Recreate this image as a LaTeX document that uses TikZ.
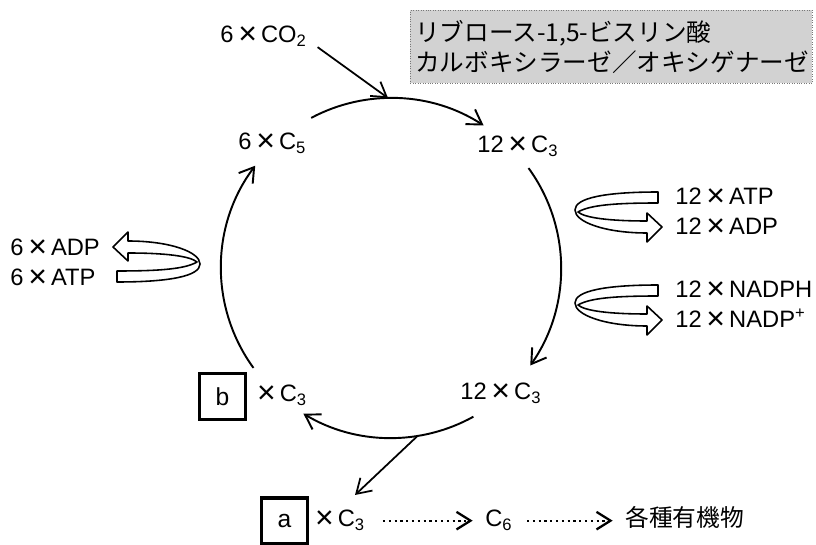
\documentclass[tikz,border=0pt]{standalone}
\usepackage{graphicx}
\usepackage{fontspec}
\setmainfont{Liberation Sans}
\newfontfamily\jpfont{Noto Sans CJK JP}
\definecolor{enzgray}{RGB}{210,210,210}
\definecolor{enzedge}{RGB}{120,120,120}
\usetikzlibrary{arrows.meta,calc}
\newcommand\tms{\hspace{0.2em}\raisebox{-0.05em}{\scalebox{1.35}{×}}\hspace{0.17em}}

\tikzset{
  turnarrow/.pic={
    \draw[fill=white, line width=0.9pt, line join=round]
      (83,7) -- (83,18) .. controls (30,18) and (0,12) .. (0,0)
      .. controls (0,-12) and (30,-23) .. (72,-23)
      -- (72,-32) -- (87,-17) -- (72,-3) -- (72,-11)
      .. controls (35,-11) and (10,-8) .. (3,-2)
      .. controls (15,5) and (40,7) .. cycle;
  }
}

\begin{document}
\begin{tikzpicture}[x=0.02cm, y=0.02cm, >={Straight Barb[length=8pt,width=10pt]},
  lbl/.style={anchor=base west, inner sep=0pt, font=\fontsize{13.5}{16}\selectfont},
  cycarrow/.style={line width=1.1pt, ->},
  thinarrow/.style={line width=1pt, ->},
  chainarrow/.style={dotted, line width=1.3pt, ->},
  blank/.style={draw, line width=2pt, minimum size=0.92cm, inner sep=0pt, font=\fontsize{14}{17}\selectfont}]
\useasboundingbox (0,0) rectangle (816,545);

\coordinate (ctr) at (391,277);

% enzyme
\node[draw=enzedge, densely dotted, fill=enzgray, anchor=north west, inner xsep=0.1cm,
  text width=7.84cm, minimum height=1.46cm, align=left, font=\fontsize{14}{17}\selectfont\jpfont] (enz) at (410,535)
  {リブロース-1,5-ビスリン酸\\カルボキシラーゼ／オキシゲナーゼ};

% cycle members
\node[lbl] (co2) at (220,502) {6\tms CO\textsubscript{2}};
\node[lbl] (c5) at (238,395) {6\tms C\textsubscript{5}};
\node[lbl] (c3top) at (477,392) {12\tms C\textsubscript{3}};
\node[lbl] (c3bot) at (460,145) {12\tms C\textsubscript{3}};
\node[blank] (boxb) at (222.5,148.5) {b};
\node[lbl] (bx) at (252,143) {\tms C\textsubscript{3}};
\node[blank] (boxa) at (284.5,24) {a};
\node[lbl] (ax) at (310,18) {\tms C\textsubscript{3}};
\node[lbl] (c6) at (485,18) {C\textsubscript{6}};
\node[lbl] (misc) at (625,18) {\jpfont 各種有機物};

% energy
\node[lbl] (atp12) at (675,340) {12\tms ATP};
\node[lbl] (adp12) at (675,310) {12\tms ADP};
\node[lbl] (nadph) at (675,247) {12\tms NADPH};
\node[lbl] (nadp) at (675,217) {12\tms NADP\textsuperscript{+}};
\node[lbl] (adp6) at (10,289) {6\tms ADP};
\node[lbl] (atp6) at (10,259) {6\tms ATP};

\pic at (575,335) {turnarrow};
\pic at (575,242) {turnarrow};
\pic[rotate=180] at (200,281) {turnarrow};

% arcs
\draw[cycarrow] ([shift={(118:170)}]ctr) arc[start angle=118, end angle=57, radius=170];
\draw[cycarrow] ([shift={(36:170)}]ctr) arc[start angle=36, end angle=-35, radius=170];
\draw[cycarrow] ([shift={(-61:170)}]ctr) arc[start angle=-61, end angle=-121, radius=170];
\draw[cycarrow] ([shift={(216:170)}]ctr) arc[start angle=216, end angle=143, radius=170];

\coordinate (brend) at (355,50);
\draw[thinarrow] ([xshift=6pt]co2.south east) -- ([shift={(91:170)}]ctr);
\draw[thinarrow] ([shift={(-81:170)}]ctr) -- (brend);

\draw[chainarrow, shorten <=10pt, shorten >=7pt] (ax.east) -- (ax.east -| c6.west);
\draw[chainarrow, shorten <=8pt, shorten >=7pt] (ax.east -| c6.east) -- (ax.east -| misc.west);
\end{tikzpicture}
\end{document}
